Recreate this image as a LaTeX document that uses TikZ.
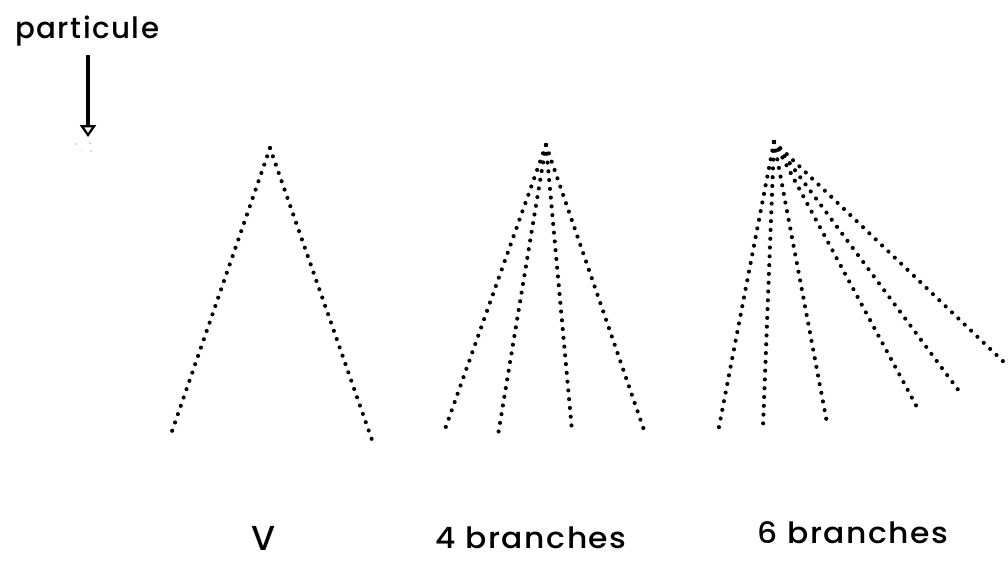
\documentclass[tikz,border=0pt]{standalone}
\usepackage{fontspec}
\setmainfont{Poppins}[UprightFont={* Medium}, LetterSpace=5]
\usetikzlibrary{arrows.meta}
\begin{document}
\begin{tikzpicture}[x=0.75pt,y=-0.75pt,
  track/.style={line width=3.1pt, line cap=round, dash pattern=on 0pt off 6.6pt},
  lbl/.style={font=\fontsize{22}{26}\selectfont, inner sep=0pt}]
\useasboundingbox (0,0) rectangle (1008,562);

% incoming particle
\node[lbl, anchor=base west] (part) at (15,38) {particule};
\coordinate (arrtop) at (88,55);
\coordinate (arrtip) at (88,137);
\draw[line width=2.3pt, -{Triangle[open, width=12pt, length=9pt, line width=1.7pt]}] (arrtop) -- (arrtip);
\fill[gray!60] (76,144) circle (0.6pt) (90,143) circle (0.7pt) (82,150) circle (0.5pt) (91,151) circle (0.7pt);

% V event
\coordinate (va) at (270,148);
\coordinate (v1) at (170,437);
\coordinate (v2) at (372,440);
\foreach \e in {v1,v2} \draw[track] (va) -- (\e);

% four-branch event
\coordinate (fa) at (546,145);
\coordinate (f1) at (444,432);
\coordinate (f2) at (498,435);
\coordinate (f3) at (572,431);
\coordinate (f4) at (645,433);
\foreach \e in {f1,f2,f3,f4} \draw[track] (fa) -- (\e);

% six-branch event
\coordinate (sa) at (774,142);
\coordinate (s1) at (718,432);
\coordinate (s2) at (763,427);
\coordinate (s3) at (827,423);
\coordinate (s4) at (918,409);
\coordinate (s5) at (962,395);
\coordinate (s6) at (1008,366);
\foreach \e in {s1,s2,s3,s4,s5,s6} \draw[track] (sa) -- (\e);

% captions
\node[lbl, anchor=base, font=\fontsize{26}{30}\selectfont] (lv) at (264,550) {V};
\node[lbl, anchor=base, xscale=1.07] (l4) at (531,548) {4 branches};
\node[lbl, anchor=base, xscale=1.07] (l6) at (853,543) {6 branches};
\end{tikzpicture}
\end{document}
